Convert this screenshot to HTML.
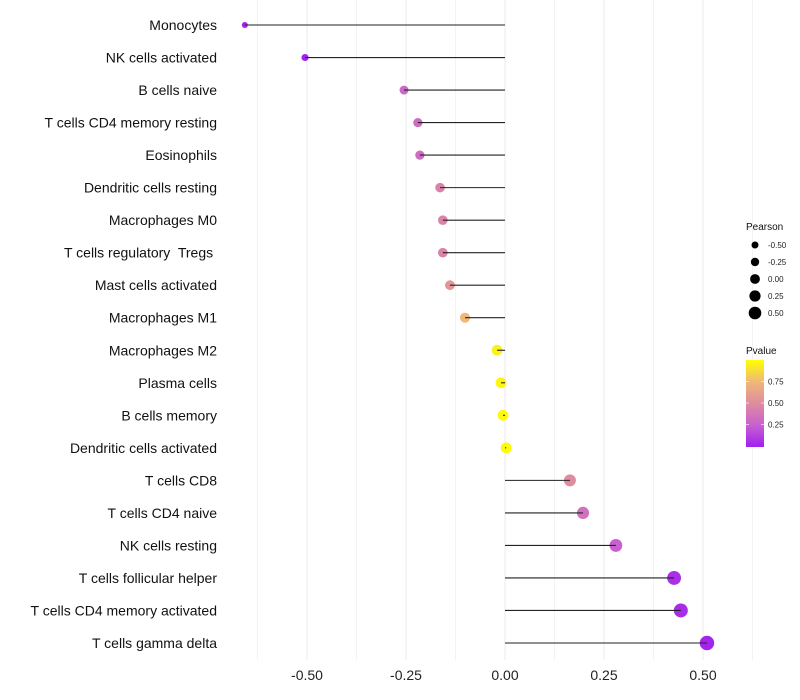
<!DOCTYPE html>
<html><head><meta charset="utf-8"><style>
body{margin:0;background:#fff;}
svg{display:block;font-family:"Liberation Sans",sans-serif;}
text{white-space:pre;}
</style></head><body>
<svg id="c" width="800" height="700"></svg>
<script>
const categories=["Monocytes","NK cells activated","B cells naive","T cells CD4 memory resting","Eosinophils","Dendritic cells resting","Macrophages M0","T cells regulatory  Tregs ","Mast cells activated","Macrophages M1","Macrophages M2","Plasma cells","B cells memory","Dendritic cells activated","T cells CD8","T cells CD4 naive","NK cells resting","T cells follicular helper","T cells CD4 memory activated","T cells gamma delta"];
const pearson=[-0.657,-0.505,-0.255,-0.22,-0.215,-0.164,-0.157,-0.157,-0.139,-0.101,-0.02,-0.01,-0.005,0.003,0.164,0.197,0.28,0.427,0.444,0.51];
const pvalue=[0.01,0.02,0.3,0.32,0.32,0.45,0.46,0.46,0.55,0.75,0.95,0.97,0.98,0.99,0.5,0.35,0.25,0.06,0.05,0.02];
const xTicks=[-0.5,-0.25,0,0.25,0.5];
const xTickLabels=["-0.50","-0.25","0.00","0.25","0.50"];
const sizeLegend=[-0.5,-0.25,0,0.25,0.5];
const colorLegend=[0.75,0.5,0.25];

const NS="http://www.w3.org/2000/svg";
const svg=document.getElementById('c');
function mk(t,a,p){const e=document.createElementNS(NS,t);for(const k in a)e.setAttribute(k,a[k]);(p||svg).appendChild(e);return e;}
const x=v=>505+v*396;
const y=i=>25+i*(643-25)/19;
const rad=v=>Math.max(2,5.4+3.6*v);
const stops=[[0,[160,32,240]],[0.25,[200,96,208]],[0.5,[222,140,160]],[0.75,[240,184,120]],[1,[255,255,0]]];
function col(p){for(let i=1;i<stops.length;i++){if(p<=stops[i][0]){const a=stops[i-1],b=stops[i];const t=(p-a[0])/(b[0]-a[0]);const c=a[1].map((v,j)=>Math.round(v+(b[1][j]-v)*t));return `rgb(${c})`;}}return 'rgb(255,255,0)';}

for(let v=-0.625;v<=0.626;v+=0.125){
  const g=mk('line',{x1:x(v),x2:x(v),y1:0,y2:660,stroke:'#ebebeb','stroke-width':Math.abs(v*4-Math.round(v*4))<1e-6?1:0.6});
  
  
}
xTicks.forEach((v,i)=>{
  const t=mk('text',{x:x(v),y:680,'text-anchor':'middle','font-size':14,fill:'#222'});
  t.textContent=xTickLabels[i];
  
  
});
categories.forEach((c,i)=>{
  const t=mk('text',{x:217,y:y(i)+5,'text-anchor':'end','font-size':14,fill:'#111'});
  t.textContent=c;
  
  
  const p=mk('circle',{cx:x(pearson[i]),cy:y(i),r:rad(pearson[i]),fill:col(pvalue[i])});
  
  
  const s=mk('line',{x1:x(0),x2:x(pearson[i]),y1:y(i),y2:y(i),stroke:'#222','stroke-width':1.1});
  
  
});
const lt=mk('text',{x:746,y:230,'font-size':10,fill:'#111'});lt.textContent='Pearson';


sizeLegend.forEach((v,i)=>{
  const cy=245+i*17;
  const c=mk('circle',{cx:755,cy:cy,r:3.5+v*2.8+1.4,fill:'#000'});
  
  
  const t=mk('text',{x:768,y:cy+3,'font-size':8,fill:'#222'});t.textContent=v.toFixed(2);
  
  
});
const ct=mk('text',{x:746,y:354,'font-size':10,fill:'#111'});ct.textContent='Pvalue';


const defs=mk('defs',{});
const lg=mk('linearGradient',{id:'g',x1:0,y1:1,x2:0,y2:0},defs);
stops.forEach(s=>mk('stop',{offset:s[0],'stop-color':`rgb(${s[1]})`},lg));
const cb=mk('rect',{x:746,y:360,width:18,height:87,fill:'url(#g)'});


colorLegend.forEach(v=>{
  const cy=446-v*86;
  mk('line',{x1:746,x2:749,y1:cy,y2:cy,stroke:'#fff','stroke-opacity':0.6});
  mk('line',{x1:761,x2:764,y1:cy,y2:cy,stroke:'#fff','stroke-opacity':0.6});
  const t=mk('text',{x:768,y:cy+3,'font-size':8,fill:'#222'});t.textContent=v.toFixed(2);
  
  
});
</script>
</body></html>
